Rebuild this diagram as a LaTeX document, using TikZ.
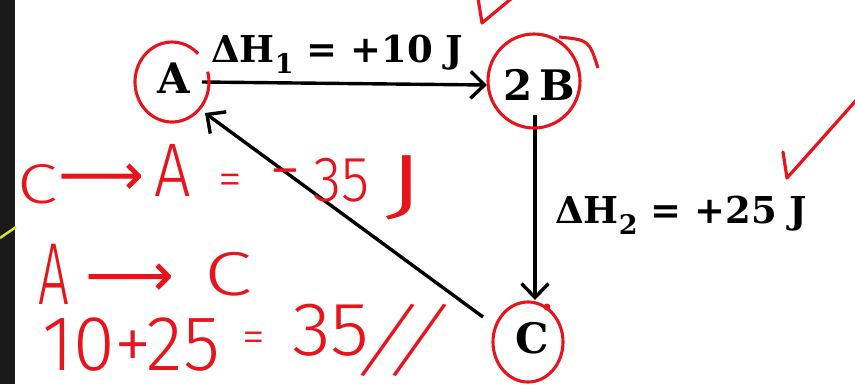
\documentclass[tikz,border=0pt]{standalone}
\usepackage{fontspec}
\newfontfamily\hand{Fira Sans Light}
\newfontfamily\sym{DejaVu Sans}
\newfontfamily\book{DejaVu Serif}
\usetikzlibrary{arrows.meta,calc}
\definecolor{ink}{HTML}{E8141C}
\definecolor{pen}{HTML}{1A1A1A}
\definecolor{hilite}{HTML}{D8E030}
\newcommand{\fsz}[1]{\fontsize{#1}{#1}\selectfont}
\newcommand{\lowsub}[1]{\raisebox{-0.3em}{\fsz{27}#1}}
\tikzset{
  lbl/.style={text=black,inner sep=0pt},
  arr/.style={line width=3.4pt,-{Straight Barb[length=14pt,width=27pt,line width=3.4pt]}},
  ring/.style={draw=ink,line width=3.1pt},
  tick/.style={draw=ink,line width=3.2pt,line cap=round,line join=round},
  hw/.style={text=ink,inner sep=0pt},
}
\begin{document}
\begin{tikzpicture}[x=1pt,y=-1pt]
\fill[white] (0,0) rectangle (855,384);
\useasboundingbox (0,0) rectangle (855,384);
\fill[pen] (0,0) rectangle (15,384);
\draw[hilite,line width=2.5pt] (0,238) -- (16,227);

% main nodes
\node[lbl,font={\book\bfseries\fsz{42}}] (A) at (174,78) {A};
\node[lbl,font={\book\bfseries\fsz{42}}] (B) at (539,85) {2\,B};
\node[lbl,font={\book\bfseries\fsz{42}}] (C) at (532,338) {C};

% labels
\node[lbl,anchor=base west,font={\book\bfseries\fsz{37}}] (h1) at (211,62) {ΔH\lowsub{1} = +10 J};
\node[lbl,anchor=base west,font={\book\bfseries\fsz{37}}] (h2) at (555,223) {ΔH\lowsub{2} = +25 J};

% connectors
\draw[arr] ($(A)+(28,4)$) -- ($(B)+(-52,0)$);
\draw[arr] ($(B)+(-4,30)$) -- ($(C)+(3,-38)$);
\draw[arr] ($(C)+(-49,-21)$) -- ($(A)+(31,35)$);

% red rings
\draw[ring] ($(A)+(-2,4)$) ++(-15:37 and 40) arc[start angle=-15,end angle=315,x radius=37,y radius=40];
\draw[ring] ($(B)+(-5,-4)$) ellipse[x radius=46,y radius=47];
\draw[ring] ($(B)+(20,-48)$) .. controls ($(B)+(50,-45)$) .. ($(B)+(59,-17)$);
\draw[ring] ($(C)+(-4,4)$) ellipse[x radius=35,y radius=40];
\fill[ink] ($(C)+(15,-31)$) circle (3.5);

% ticks
\draw[tick] (478,-2) -- (482,23) -- (512,-2);
\draw[tick] (783,152) -- (787,178) -- (860,96);

% handwriting line 1
\node[hw,font={\hand\fsz{56}},xscale=1.3] (l1c) at (38,184) {C};
\node[hw,font={\sym\fsz{60}}] (l1ar) at (102,180) {⟶};
\node[hw,font={\hand\fsz{76}},xscale=0.85] (l1a) at (173,170) {A};
\node[hw,font={\hand\fsz{48}}] (l1eq) at (230,185) {=};
\node[hw,font={\hand\fsz{70}},xscale=1.2] (l1m) at (285,181) {-};
\node[hw,font={\hand\fsz{64}},xscale=0.9] (l1n) at (342,180) {35};
\node[hw,font={\hand\fsz{80}},xscale=1.8] (l1j) at (405,188) {J};

% handwriting line 2
\node[hw,font={\hand\fsz{88}},xscale=0.62] (l2a) at (54,274) {A};
\node[hw,font={\sym\fsz{62}}] (l2ar) at (130,280) {⟶};
\node[hw,font={\hand\fsz{62}},xscale=1.4] (l2c) at (228,274) {C};

% handwriting line 3
\node[hw,font={\hand\fsz{78}},xscale=0.97] (l3s) at (131,345) {10+25};
\node[hw,font={\hand\fsz{46}}] (l3eq) at (254,342) {=};
\node[hw,font={\hand\fsz{76}},xscale=1.05] (l3n) at (331,330) {35};
\node[hw,font={\hand\fsz{80}},xslant=0.45] (l3sl) at (404,340) {//};
\end{tikzpicture}
\end{document}
